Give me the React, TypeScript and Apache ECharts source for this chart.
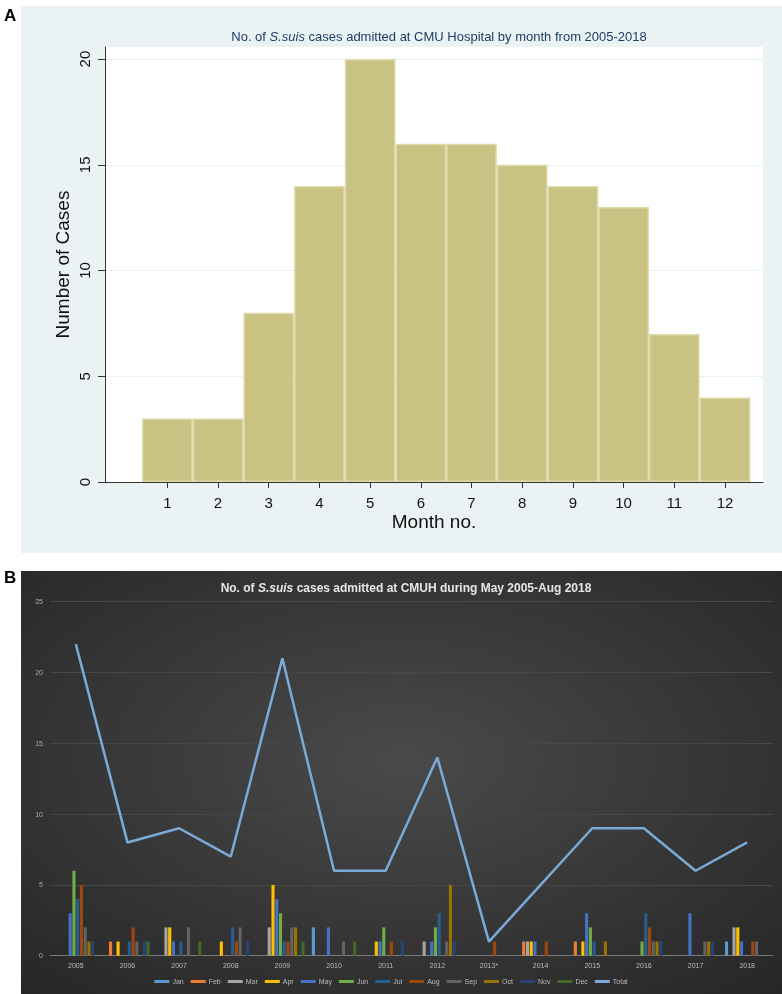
import React, { useEffect, useRef } from "react";
import * as echarts from "echarts";

// Panel A: cases by month (2005-2018)
const monthNos = [1, 2, 3, 4, 5, 6, 7, 8, 9, 10, 11, 12];
const monthCases = [3, 3, 8, 14, 20, 16, 16, 15, 14, 13, 7, 4];
const yTicksA = [0, 5, 10, 15, 20];

// Panel B: cases per month per year
const years = ["2005", "2006", "2007", "2008", "2009", "2010", "2011", "2012", "2013*", "2014", "2015", "2016", "2017", "2018"];
const monthNames = ["Jan", "Feb", "Mar", "Apr", "May", "Jun", "Jul", "Aug", "Sep", "Oct", "Nov", "Dec"];
const _ = null;
const janVals = [_, _, _, _, _, 2, _, _, _, _, _, _, _, 1];
const febVals = [_, 1, _, _, _, _, _, _, _, 1, 1, _, _, _];
const marVals = [_, _, 2, _, 2, _, _, 1, _, 1, _, _, _, 2];
const aprVals = [_, 1, 2, 1, 5, _, 1, _, _, 1, 1, _, _, 2];
const mayVals = [3, _, 1, _, 4, 2, 1, 1, _, 1, 3, _, 3, 1];
const junVals = [6, _, _, _, 3, _, 2, 2, _, _, 2, 1, _, _];
const julVals = [4, 1, 1, 2, 1, _, _, 3, _, _, 1, 3, _, _];
const augVals = [5, 2, _, 1, 1, _, 1, _, 1, 1, _, 2, _, 1];
const sepVals = [2, 1, 2, 2, 2, 1, _, 1, _, _, _, 1, 1, 1];
const octVals = [1, _, _, _, 2, _, _, 5, _, _, 1, 1, 1, _];
const novVals = [1, 1, _, 1, _, _, 1, 1, _, _, _, 1, 1, _];
const decVals = [_, 1, 1, _, 1, 1, _, _, _, _, _, _, _, _];
const totalVals = [22, 8, 9, 7, 21, 6, 6, 14, 1, 5, 9, 9, 6, 8];

const monthSeriesVals = [janVals, febVals, marVals, aprVals, mayVals, junVals, julVals, augVals, sepVals, octVals, novVals, decVals];
const monthColors = ["#5B9BD5", "#ED7D31", "#A5A5A5", "#FFC000", "#4472C4", "#70AD47", "#255E91", "#9E480E", "#636363", "#997300", "#264478", "#43682B"];

export default function App() {
  const ref = useRef<HTMLDivElement>(null);
  useEffect(() => {
    if (!ref.current) return;
    const chart = echarts.init(ref.current, null, { renderer: "svg" });
    const barSeries = monthNames.map((m, i) => ({
      name: m,
      type: "bar",
      xAxisIndex: 1,
      yAxisIndex: 1,
      data: monthSeriesVals[i],
      itemStyle: { color: monthColors[i] },
      barGap: "20%",
      barCategoryGap: "14%",
    }));
    const option: any = {
      animation: false,
      textStyle: { fontFamily: "Liberation Sans" },
      graphic: [
        { type: "rect", z: -10, shape: { x: 21, y: 6, width: 761, height: 547 }, style: { fill: "#EAF2F3" } },
        {
          type: "rect", z: -10, shape: { x: 21, y: 571, width: 761, height: 423 },
          style: {
            fill: {
              type: "radial", x: 0.5, y: 0.45, r: 0.75,
              colorStops: [{ offset: 0, color: "#4a4a4a" }, { offset: 1, color: "#262626" }],
            },
          },
        },
        { type: "text", x: 4, y: 7, style: { text: "A", font: "bold 17px Liberation Sans", fill: "#000" } },
        { type: "text", x: 4, y: 569, style: { text: "B", font: "bold 17px Liberation Sans", fill: "#000" } },
      ],
      title: [
        {
          text: "No. of {i|S.suis} cases admitted at CMU Hospital by month from 2005-2018",
          left: 434, top: 25, textAlign: "center",
          textStyle: {
            fontSize: 13, fontWeight: "normal", color: "#1F3C66", fontFamily: "Liberation Sans",
            rich: { i: { fontStyle: "italic", fontSize: 13, color: "#1F3C66", fontFamily: "Liberation Sans" } },
          },
        },
        {
          text: "No. of {i|S.suis} cases admitted at CMUH during May 2005-Aug 2018",
          left: 401, top: 577, textAlign: "center",
          textStyle: {
            fontSize: 12, fontWeight: "bold", color: "#E6E6E6", fontFamily: "Liberation Sans",
            rich: { i: { fontStyle: "italic", fontWeight: "bold", fontSize: 12, color: "#E6E6E6", fontFamily: "Liberation Sans" } },
          },
        },
      ],
      grid: [
        { left: 105, top: 47, width: 658, height: 435, show: true, backgroundColor: "#FFFFFF", borderWidth: 0 },
        { left: 50, top: 601.7, width: 723, height: 354 },
      ],
      xAxis: [
        {
          type: "value", gridIndex: 0, min: -0.23, max: 12.75,
          name: "Month no.", nameLocation: "middle", nameGap: 30, nameMoveOverlap: false,
          nameTextStyle: { fontSize: 19, color: "#111" },
          axisLine: { show: true, onZero: false, lineStyle: { color: "#333", width: 1 } },
          axisTick: { show: true, length: 6, customValues: monthNos, lineStyle: { color: "#333" } },
          axisLabel: { customValues: monthNos, fontSize: 15, color: "#111", margin: 13 },
          splitLine: { show: false },
        },
        {
          type: "category", gridIndex: 1, data: years,
          axisLine: { show: true, lineStyle: { color: "#7a7a7a", width: 1 } },
          axisTick: { show: false },
          axisLabel: { fontSize: 7, color: "#BBBBBB", margin: 6 },
        },
      ],
      yAxis: [
        {
          type: "value", gridIndex: 0, min: 0, max: 20.57, interval: 5,
          name: "Number of Cases", nameLocation: "middle", nameGap: 33, nameRotate: 90, nameMoveOverlap: false,
          nameTextStyle: { fontSize: 19, color: "#111" },
          axisLine: { show: true, onZero: false, lineStyle: { color: "#333", width: 1 } },
          axisTick: { show: true, length: 7, customValues: yTicksA, lineStyle: { color: "#333" } },
          axisLabel: { customValues: yTicksA, fontSize: 15, color: "#111", rotate: 90, margin: 13 },
          splitLine: { show: true, lineStyle: { color: "#EAF2F3", width: 1 } },
        },
        {
          type: "value", gridIndex: 1, min: 0, max: 25, interval: 5,
          axisLine: { show: false }, axisTick: { show: false },
          axisLabel: { fontSize: 7, color: "#AAAAAA", margin: 7 },
          splitLine: { show: true, lineStyle: { color: "#474747", width: 1 } },
        },
      ],
      legend: {
        bottom: 4, left: "center",
        icon: "rect", itemWidth: 15, itemHeight: 3, itemGap: 7,
        textStyle: { fontSize: 7, color: "#BBBBBB", padding: [0, 0, 0, -2] },
        data: [...monthNames, "Total"],
      },
      series: [
        {
          name: "Month cases", type: "bar", xAxisIndex: 0, yAxisIndex: 0,
          data: monthNos.map((m, i) => [m, monthCases[i]]),
          barWidth: 50.7,
          itemStyle: { color: "#C9C283", borderColor: "#DEDAA8", borderWidth: 1.5 },
        },
        ...barSeries,
        {
          name: "Total", type: "line", xAxisIndex: 1, yAxisIndex: 1,
          data: totalVals, showSymbol: false, symbol: "none",
          lineStyle: { color: "#7AAAD8", width: 2.5 },
          itemStyle: { color: "#7AAAD8" },
          z: 5,
        },
      ],
    };
    chart.setOption(option);
    return () => chart.dispose();
  }, []);
  return <div ref={ref} style={{ position: "fixed", left: 0, top: 0, width: 782, height: 994 }} />;
}
